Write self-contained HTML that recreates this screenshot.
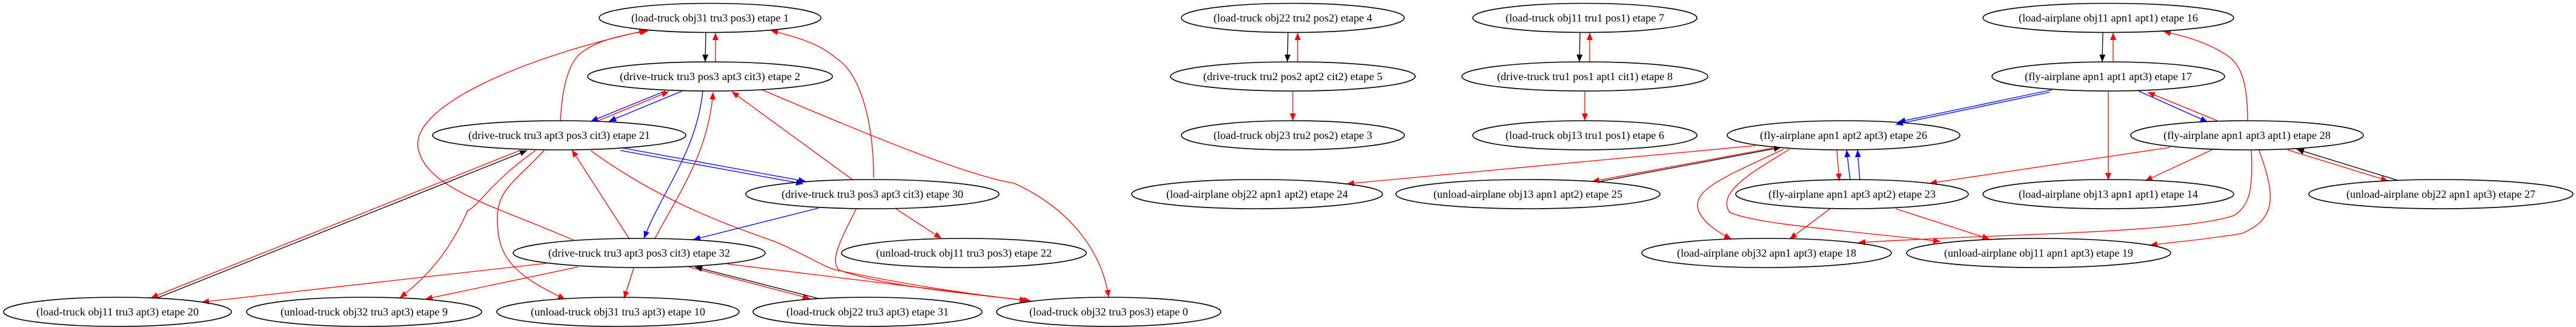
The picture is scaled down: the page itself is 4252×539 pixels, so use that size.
<!DOCTYPE html>
<html><head><meta charset="utf-8"><style>
html,body{margin:0;padding:0;background:#fff;}
svg{display:block;}
text{font-family:"Liberation Serif",serif;font-size:18px;fill:#000;}
ellipse{fill:none;stroke:#000;stroke-width:1.6;}
.r{stroke:#f00;fill:none;stroke-width:1.3;}
.b{stroke:#00f;fill:none;stroke-width:1.3;}
.k{stroke:#000;fill:none;stroke-width:1.3;}
</style></head><body>
<svg width="4252" height="539" viewBox="0 0 4252 539" xmlns="http://www.w3.org/2000/svg">
<defs>
<marker id="ar" markerUnits="userSpaceOnUse" markerWidth="14" markerHeight="10" refX="12" refY="5" orient="auto"><path d="M0,0 L12,5 L0,10z" fill="#f00"/></marker>
<marker id="ab" markerUnits="userSpaceOnUse" markerWidth="14" markerHeight="10" refX="12" refY="5" orient="auto"><path d="M0,0 L12,5 L0,10z" fill="#00f"/></marker>
<marker id="ak" markerUnits="userSpaceOnUse" markerWidth="14" markerHeight="10" refX="12" refY="5" orient="auto"><path d="M0,0 L12,5 L0,10z" fill="#000"/></marker>
</defs>

<g>
<path class="k" d="M1165,54 L1164,102" marker-end="url(#ak)"/>
<path class="r" d="M1181,102 L1181,54" marker-end="url(#ar)"/>
<path class="r" d="M925,200 C928,140 940,100 962,85 C990,65 1030,57 1070,51" marker-end="url(#ar)"/>
<path class="r" d="M947,396 C820,340 702,312 690,243 C680,175 860,95 1067,50" marker-end="url(#ar)"/>
<path class="r" d="M1442,293 C1442,200 1420,120 1379,95 C1350,70 1310,60 1272,50" marker-end="url(#ar)"/>
<path class="b" d="M1098,150 L975,200" marker-end="url(#ab)"/>
<path class="r" d="M985,200 L1104,151" marker-end="url(#ar)"/>
<path class="b" d="M1126,150 L1005,200" marker-end="url(#ab)"/>
<path class="b" d="M1028,244 L1330,299" marker-end="url(#ab)"/>
<path class="b" d="M1024,248 L1326,303" marker-end="url(#ab)"/>
<path class="b" d="M1160,150 C1150,250 1090,320 1063,393" marker-end="url(#ab)"/>
<path class="r" d="M1081,393 C1120,320 1170,250 1177,152" marker-end="url(#ar)"/>
<path class="r" d="M1407,296 L1208,151" marker-end="url(#ar)"/>
<path class="r" d="M1258,148 C1450,230 1600,290 1674,302 C1772,347 1820,420 1830,490" marker-end="url(#ar)"/>
<path class="r" d="M1039,394 L944,247" marker-end="url(#ar)"/>
<path class="r" d="M884,248 C810,300 790,340 772,347 C740,420 700,460 660,491" marker-end="url(#ar)"/>
<path class="r" d="M898,248 C850,300 821,312 821,360 C821,420 842,451 933,493" marker-end="url(#ar)"/>
<path class="r" d="M975,248 C1100,340 1230,380 1281,399 C1330,420 1360,440 1380,445 C1500,470 1600,485 1702,496" marker-end="url(#ar)"/>
<path class="r" d="M858,248 L249,491" marker-end="url(#ar)"/>
<path class="k" d="M260,491 L870,248" marker-end="url(#ak)"/>
<path class="r" d="M902,434 L333,498" marker-end="url(#ar)"/>
<path class="r" d="M954,440 L702,493" marker-end="url(#ar)"/>
<path class="r" d="M1046,442 L1030,492" marker-end="url(#ar)"/>
<path class="r" d="M1137,440 L1337,492" marker-end="url(#ar)"/>
<path class="k" d="M1351,492 L1147,440" marker-end="url(#ak)"/>
<path class="r" d="M1200,435 L1698,496" marker-end="url(#ar)"/>
<path class="b" d="M1351,343 L1144,395" marker-end="url(#ab)"/>
<path class="r" d="M1477,343 L1554,393" marker-end="url(#ar)"/>
<path class="r" d="M1413,345 C1385,400 1370,430 1385,445 C1450,470 1600,485 1695,495" marker-end="url(#ar)"/>
</g>

<path class="k" d="M2126,54 L2125,102" marker-end="url(#ak)"/>
<path class="r" d="M2142,102 L2142,54" marker-end="url(#ar)"/>
<path class="r" d="M2134,151 L2134,199" marker-end="url(#ar)"/>
<path class="k" d="M2608,54 L2607,102" marker-end="url(#ak)"/>
<path class="r" d="M2624,102 L2624,54" marker-end="url(#ar)"/>
<path class="r" d="M2616,151 L2616,199" marker-end="url(#ar)"/>

<path class="r" d="M2898,240 L2223,303" marker-end="url(#ar)"/>
<path class="r" d="M2926,244 L2628,299" marker-end="url(#ar)"/>
<path class="k" d="M2642,299 L2940,243" marker-end="url(#ak)"/>
<path class="r" d="M2944,246 C2850,290 2800,310 2802,340 C2805,365 2840,385 2858,394" marker-end="url(#ar)"/>
<path class="r" d="M2954,246 C2880,290 2835,320 2855,350 C2900,370 3050,380 3203,398" marker-end="url(#ar)"/>
<path class="r" d="M3032,248 L3036,298" marker-end="url(#ar)"/>
<path class="b" d="M3054,297 L3048,247" marker-end="url(#ab)"/>
<path class="b" d="M3070,297 L3066,247" marker-end="url(#ab)"/>
<path class="r" d="M3021,344 L2954,394" marker-end="url(#ar)"/>
<path class="r" d="M3716,248 C3720,320 3710,340 3688,355 C3600,385 3300,385 3067,400" marker-end="url(#ar)"/>
<path class="r" d="M3729,248 C3755,320 3760,360 3700,385 C3640,395 3580,400 3549,404" marker-end="url(#ar)"/>
<path class="r" d="M3129,344 L3284,394" marker-end="url(#ar)"/>
<path class="b" d="M3387,148 L3133,201" marker-end="url(#ab)"/>
<path class="b" d="M3383,152 L3129,205" marker-end="url(#ab)"/>
<path class="b" d="M3530,150 L3644,201" marker-end="url(#ab)"/>
<path class="r" d="M3660,199 L3545,152" marker-end="url(#ar)"/>
<path class="k" d="M3471,54 L3470,102" marker-end="url(#ak)"/>
<path class="r" d="M3488,102 L3488,54" marker-end="url(#ar)"/>
<path class="r" d="M3710,199 C3710,140 3700,110 3681,95 C3650,72 3610,60 3571,52" marker-end="url(#ar)"/>
<path class="r" d="M3480,151 L3480,297" marker-end="url(#ar)"/>
<path class="r" d="M3651,247 L3541,298" marker-end="url(#ar)"/>
<path class="r" d="M3582,243 L3185,302" marker-end="url(#ar)"/>
<path class="r" d="M3776,247 L3942,298" marker-end="url(#ar)"/>
<path class="k" d="M3957,297 L3791,246" marker-end="url(#ak)"/>

<g>
<ellipse cx="1172" cy="29.5" rx="183" ry="24"/><text x="1172" y="35.5" text-anchor="middle" textLength="260" lengthAdjust="spacingAndGlyphs">(load-truck obj31 tru3 pos3) etape 1</text>
<ellipse cx="1172" cy="126" rx="202" ry="24"/><text x="1172" y="132" text-anchor="middle" textLength="298" lengthAdjust="spacingAndGlyphs">(drive-truck tru3 pos3 apt3 cit3) etape 2</text>
<ellipse cx="923" cy="223" rx="209" ry="24"/><text x="923" y="229" text-anchor="middle" textLength="300" lengthAdjust="spacingAndGlyphs">(drive-truck tru3 apt3 pos3 cit3) etape 21</text>
<ellipse cx="1440" cy="320" rx="209" ry="24"/><text x="1440" y="326" text-anchor="middle" textLength="300" lengthAdjust="spacingAndGlyphs">(drive-truck tru3 pos3 apt3 cit3) etape 30</text>
<ellipse cx="1055" cy="417" rx="208" ry="24"/><text x="1055" y="423" text-anchor="middle" textLength="300" lengthAdjust="spacingAndGlyphs">(drive-truck tru3 apt3 pos3 cit3) etape 32</text>
<ellipse cx="1591" cy="417" rx="202" ry="24"/><text x="1591" y="423" text-anchor="middle" textLength="290" lengthAdjust="spacingAndGlyphs">(unload-truck obj11 tru3 pos3) etape 22</text>
<ellipse cx="194" cy="514" rx="188" ry="24"/><text x="194" y="520" text-anchor="middle" textLength="268" lengthAdjust="spacingAndGlyphs">(load-truck obj11 tru3 apt3) etape 20</text>
<ellipse cx="601" cy="514" rx="194" ry="24"/><text x="601" y="520" text-anchor="middle" textLength="276" lengthAdjust="spacingAndGlyphs">(unload-truck obj32 tru3 apt3) etape 9</text>
<ellipse cx="1020" cy="514" rx="200" ry="24"/><text x="1020" y="520" text-anchor="middle" textLength="288" lengthAdjust="spacingAndGlyphs">(unload-truck obj31 tru3 apt3) etape 10</text>
<ellipse cx="1432" cy="514" rx="189" ry="24"/><text x="1432" y="520" text-anchor="middle" textLength="268" lengthAdjust="spacingAndGlyphs">(load-truck obj22 tru3 apt3) etape 31</text>
<ellipse cx="1830" cy="514" rx="185" ry="24"/><text x="1830" y="520" text-anchor="middle" textLength="262" lengthAdjust="spacingAndGlyphs">(load-truck obj32 tru3 pos3) etape 0</text>

<ellipse cx="2134" cy="29.5" rx="184" ry="24"/><text x="2134" y="35.5" text-anchor="middle" textLength="262" lengthAdjust="spacingAndGlyphs">(load-truck obj22 tru2 pos2) etape 4</text>
<ellipse cx="2134" cy="126" rx="202" ry="24"/><text x="2134" y="132" text-anchor="middle" textLength="296" lengthAdjust="spacingAndGlyphs">(drive-truck tru2 pos2 apt2 cit2) etape 5</text>
<ellipse cx="2134" cy="223" rx="184" ry="24"/><text x="2134" y="229" text-anchor="middle" textLength="262" lengthAdjust="spacingAndGlyphs">(load-truck obj23 tru2 pos2) etape 3</text>
<ellipse cx="2075" cy="320" rx="207" ry="24"/><text x="2075" y="326" text-anchor="middle" textLength="300" lengthAdjust="spacingAndGlyphs">(load-airplane obj22 apn1 apt2) etape 24</text>
<ellipse cx="2616" cy="29.5" rx="185" ry="24"/><text x="2616" y="35.5" text-anchor="middle" textLength="262" lengthAdjust="spacingAndGlyphs">(load-truck obj11 tru1 pos1) etape 7</text>
<ellipse cx="2616" cy="126" rx="203" ry="24"/><text x="2616" y="132" text-anchor="middle" textLength="290" lengthAdjust="spacingAndGlyphs">(drive-truck tru1 pos1 apt1 cit1) etape 8</text>
<ellipse cx="2616" cy="223" rx="185" ry="24"/><text x="2616" y="229" text-anchor="middle" textLength="262" lengthAdjust="spacingAndGlyphs">(load-truck obj13 tru1 pos1) etape 6</text>
<ellipse cx="2522" cy="320" rx="218" ry="24"/><text x="2522" y="326" text-anchor="middle" textLength="312" lengthAdjust="spacingAndGlyphs">(unload-airplane obj13 apn1 apt2) etape 25</text>

<ellipse cx="3043" cy="223" rx="192" ry="24"/><text x="3043" y="229" text-anchor="middle" textLength="276" lengthAdjust="spacingAndGlyphs">(fly-airplane apn1 apt2 apt3) etape 26</text>
<ellipse cx="3057" cy="320" rx="192" ry="24"/><text x="3057" y="326" text-anchor="middle" textLength="276" lengthAdjust="spacingAndGlyphs">(fly-airplane apn1 apt3 apt2) etape 23</text>
<ellipse cx="2916" cy="417" rx="206" ry="24"/><text x="2916" y="423" text-anchor="middle" textLength="296" lengthAdjust="spacingAndGlyphs">(load-airplane obj32 apn1 apt3) etape 18</text>
<ellipse cx="3480" cy="29.5" rx="207" ry="24"/><text x="3480" y="35.5" text-anchor="middle" textLength="296" lengthAdjust="spacingAndGlyphs">(load-airplane obj11 apn1 apt1) etape 16</text>
<ellipse cx="3480" cy="126" rx="192" ry="24"/><text x="3480" y="132" text-anchor="middle" textLength="276" lengthAdjust="spacingAndGlyphs">(fly-airplane apn1 apt1 apt3) etape 17</text>
<ellipse cx="3709" cy="223" rx="192" ry="24"/><text x="3709" y="229" text-anchor="middle" textLength="276" lengthAdjust="spacingAndGlyphs">(fly-airplane apn1 apt3 apt1) etape 28</text>
<ellipse cx="3480" cy="320" rx="207" ry="24"/><text x="3480" y="326" text-anchor="middle" textLength="296" lengthAdjust="spacingAndGlyphs">(load-airplane obj13 apn1 apt1) etape 14</text>
<ellipse cx="4029" cy="320" rx="218" ry="24"/><text x="4029" y="326" text-anchor="middle" textLength="312" lengthAdjust="spacingAndGlyphs">(unload-airplane obj22 apn1 apt3) etape 27</text>
<ellipse cx="3365" cy="417" rx="218" ry="24"/><text x="3365" y="423" text-anchor="middle" textLength="312" lengthAdjust="spacingAndGlyphs">(unload-airplane obj11 apn1 apt3) etape 19</text>
</g>
</svg>
</body></html>
